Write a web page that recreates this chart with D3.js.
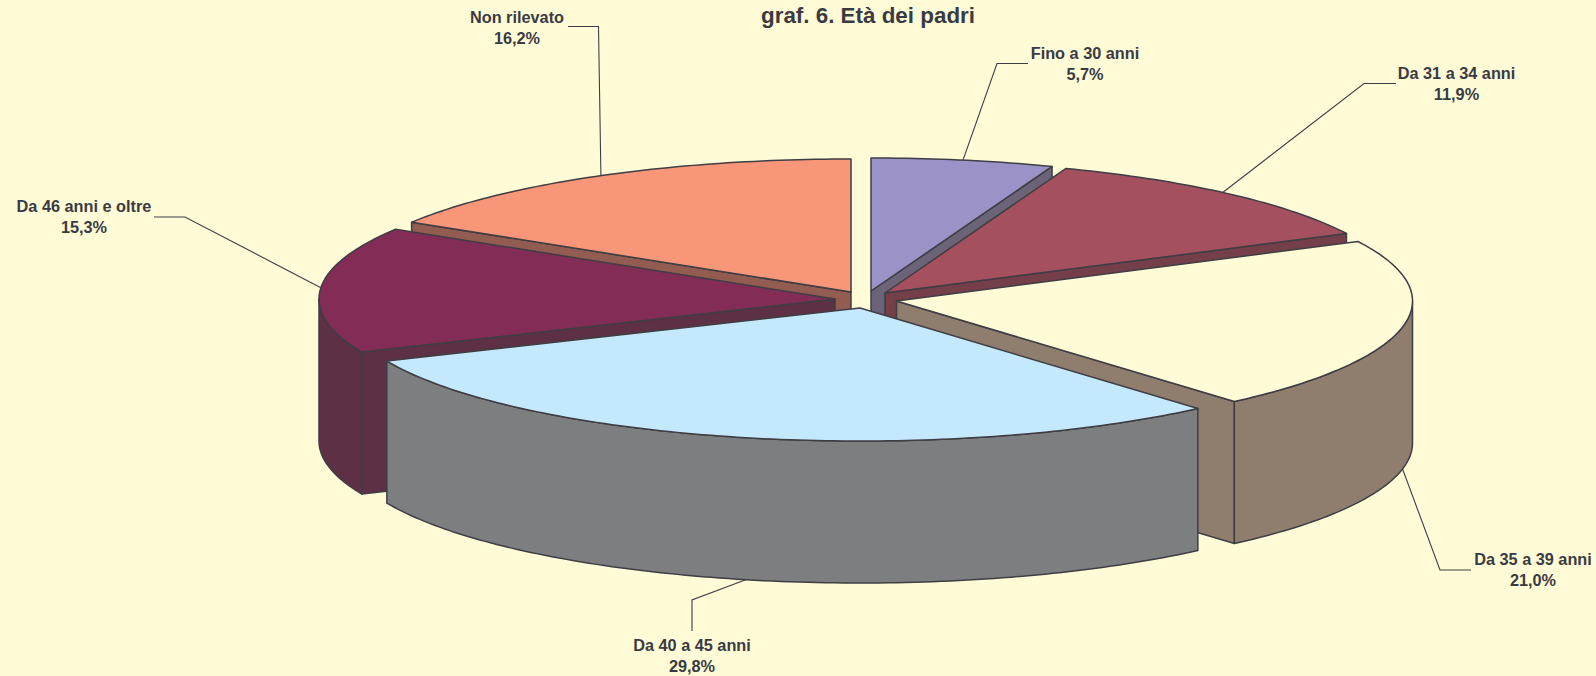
<!DOCTYPE html>
<html><head><meta charset="utf-8">
<script src="https://cdn.jsdelivr.net/npm/d3@7/dist/d3.min.js"></script>
<style>html,body{margin:0;padding:0;background:#FFFBD7;overflow:hidden}svg{display:block}
text{font-family:"Liberation Sans",Arial,sans-serif;font-weight:bold;fill:#3A3A42}</style>
</head><body><svg id="c" width="1596" height="676"></svg>
<script>
const titleText = "graf. 6. Età dei padri";
const categories = ["Fino a 30 anni","Da 31 a 34 anni","Da 35 a 39 anni","Da 40 a 45 anni","Da 46 anni e oltre","Non rilevato"];
const values = [5.7,11.9,21.0,29.8,15.3,16.2];
const topColors = ["#9B93C8","#A5505F","#FFFBD7","#C5E9FC","#832C55","#F79679"];
const wallColors = ["#6B6377","#753F4A","#8F7D6D","#7D7E80","#5D3045","#925C50"];
// layout (exploded slice apexes, painter order, leader and label geometry)
const apexes = [[871,291],[885,293],[896.5,301],[860,308],[835,299],[851,292]];
const paintOrder = [5,0,1,4,2,3];
const leaderNudgeDeg = [0,-1.1,0,0,0.8,0.2];
const leaderFromBottom = [false,false,true,true,false,false];
const leaderBends = [[[997,63.5],[1028,63.5]],[[1364,83.5],[1396,83.5]],[[1440,570],[1471,570]],[[692,600],[692,631]],[[185,217],[154,217]],[[598.5,26.5],[568,26.5]]];
const labelCenters = [[1085,59],[1456.5,78.5],[1533,565],[692,651],[84,212],[517,23]];
const RX = 516, RY = 133, DEPTH = 142, STEP = Math.PI/180;

const svg = d3.select("#c");
const arcs = d3.pie().sort(null).value(d=>d)(values);
const fmt = d3.formatLocale({decimal:",",thousands:".",grouping:[3],currency:["","€"]}).format(".1f");
const line = d3.line();
const pt = (c,a,dz=0)=>[c[0]+RX*Math.sin(a), c[1]-RY*Math.cos(a)+dz];
const arcPts = (c,a0,a1,dz=0)=>{
  const n = Math.max(2,Math.ceil((a1-a0)/STEP));
  return d3.range(n+1).map(i=>pt(c,a0+(a1-a0)*i/n,dz));
};
const stroke = {stroke:"#3E3E44","stroke-width":1.5,"stroke-linejoin":"round"};
function poly(pts,fill){
  const p = svg.append("path").attr("d",line(pts)+"Z").attr("fill",fill);
  Object.entries(stroke).forEach(([k,v])=>p.attr(k,v));
}
paintOrder.forEach(i=>{
  const c = apexes[i], a0 = arcs[i].startAngle, a1 = arcs[i].endAngle;
  const wall = wallColors[i];
  const cutWall = a=>{
    const e = pt(c,a);
    poly([c,e,[e[0],e[1]+DEPTH],[c[0],c[1]+DEPTH]],wall);
  };
  if(Math.sin(a0)<-1e-6) cutWall(a0);
  if(Math.sin(a1)>1e-6) cutWall(a1);
  const o0 = Math.max(a0,Math.PI/2), o1 = Math.min(a1,3*Math.PI/2);
  if(o1>o0) poly(arcPts(c,o0,o1).concat(arcPts(c,o0,o1,DEPTH).reverse()),wall);
  poly([c].concat(arcPts(c,a0,a1)),topColors[i]);
});
// leaders + labels
categories.forEach((name,i)=>{
  const a = (arcs[i].startAngle+arcs[i].endAngle)/2 + leaderNudgeDeg[i]*STEP;
  const s = pt(apexes[i],a,leaderFromBottom[i]?DEPTH:0);
  svg.append("path").attr("d",line([s].concat(leaderBends[i]))).attr("fill","none")
     .attr("stroke","#3E3E44").attr("stroke-width",1.1);
  const t = svg.append("text").attr("text-anchor","middle").attr("font-size",16.3)
     .attr("x",labelCenters[i][0]).attr("y",labelCenters[i][1]);
  t.append("tspan").text(name);
  t.append("tspan").attr("x",labelCenters[i][0]).attr("dy",21).text(fmt(values[i])+"%");
});
svg.append("text").attr("x",868).attr("y",23).attr("text-anchor","middle").attr("font-size",22.4).text(titleText);
</script></body></html>
